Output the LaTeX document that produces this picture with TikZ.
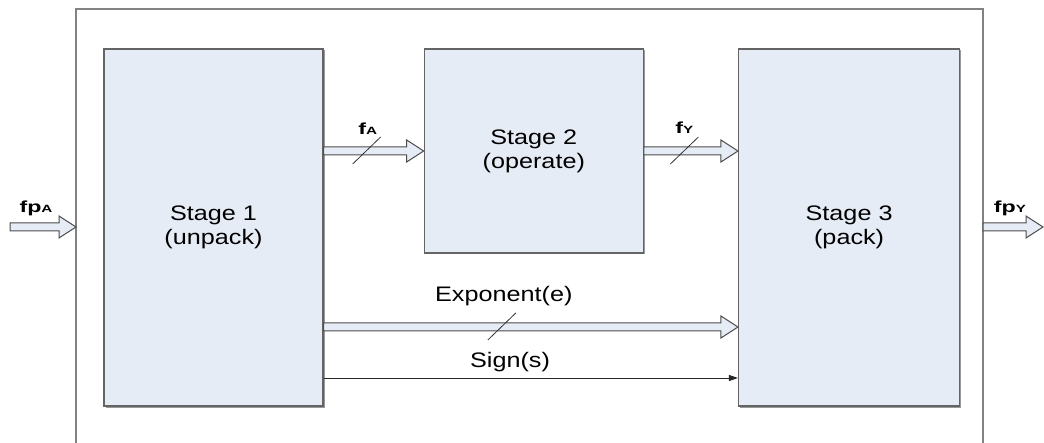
\documentclass[tikz,border=0pt]{standalone}
\usepackage{fontspec}
\setmainfont{Liberation Sans}
\newfontfamily\stagefont[FakeStretch=1.2]{Liberation Sans}
\newfontfamily\busfont[FakeStretch=1.45]{Liberation Sans}
\usetikzlibrary{arrows.meta,calc,positioning,shadows}

\definecolor{stagefill}{RGB}{230,236,246}
\definecolor{framegray}{RGB}{130,130,130}
\definecolor{edgegray}{RGB}{100,100,100}

% small subscript for the bus names
\newcommand\busub[1]{{\fontsize{10.5}{10.5}\selectfont#1}}

\begin{document}
\begin{tikzpicture}[x=1pt,y=-1pt,
  stage/.style={draw=edgegray,fill=stagefill,line width=1.3pt,minimum width=219pt,
    align=center,font=\stagefont\fontsize{21}{24}\selectfont,
    drop shadow={shadow xshift=1.5pt,shadow yshift=-1.5pt,fill=gray!80,opacity=1}},
  bus/.style={fill=stagefill,draw=black!70,line width=1pt,
    to path={let \p1=(\tikztostart), \p2=(\tikztotarget) in
      (\x1,\y1+4pt) -- (\x2-17pt,\y1+4pt) -- (\x2-17pt,\y1+11pt) -- (\x2,\y1)
      -- (\x2-17pt,\y1-11pt) -- (\x2-17pt,\y1-4pt) -- (\x1,\y1-4pt) -- cycle}},
  sig/.style={draw=black!85,line width=0.8pt,-{Triangle[length=9pt,width=6pt]}},
  tick/.style={draw=black!80,line width=0.8pt},
  bus label/.style={font=\busfont\bfseries\fontsize{16}{16}\selectfont},
  wire label/.style={font=\stagefont\fontsize{21}{24}\selectfont}]

  \useasboundingbox (0,0) rectangle (1044,443);

  % enclosing block
  \draw[framegray,line width=2pt] (76,443) -- (76,9) -- (983,9) -- (983,443);

  \node[stage,minimum height=357pt] (s1) at (213.5,227.5) {Stage 1\\(unpack)};
  \node[stage,minimum height=204pt,right=100pt of s1.north east,anchor=north west] (s2) {Stage 2\\(operate)};
  \node[stage,minimum width=221pt,minimum height=357pt,right=94pt of s2.north east,anchor=north west] (s3) {Stage 3\\(pack)};

  \coordinate (inA) at (10,227);
  \coordinate (frA) at (76,227);
  \coordinate (frY) at (983,227);
  \coordinate (outY) at (1043,227);
  \coordinate (expL) at (s1.east |- 0,327);
  \coordinate (expR) at (s3.west |- 0,327);
  \coordinate (sgnL) at (s1.east |- 0,378);
  \coordinate (sgnR) at (s3.west |- 0,378);
  \coordinate (fAL) at (s1.east |- s2.west);
  \coordinate (fYR) at (s3.west |- s2.east);

  % wide buses
  \draw[bus] (inA) to (frA);
  \draw[bus] (fAL) to (s2.west);
  \draw[bus] (s2.east) to (fYR);
  \draw[bus] (expL) to (expR);
  \draw[bus] (frY) to (outY);
  \draw[sig] (sgnL) -- (sgnR);

  % bus width ticks
  \path (fAL) -- coordinate[pos=0.43] (tA) (s2.west);
  \path (s2.east) -- coordinate[pos=0.43] (tY) (fYR);
  \path (expL) -- coordinate[pos=0.43] (tE) (expR);
  \foreach \t in {tA,tY,tE}
    \draw[tick] (\t) ++(-14,13) -- ++(28,-27);

  \node[bus label] (lfpA) at (36,208) {fp\busub{A}};
  \node[bus label] (lfA) at ($(tA)+(1,-22)$) {f\busub{A}};
  \node[bus label] (lfY) at ($(tY)+(0,-23)$) {f\busub{Y}};
  \node[bus label] (lfpY) at (1010,208) {fp\busub{Y}};
  \node[wire label] (lexp) at ($(tE)+(2,-31)$) {Exponent(e)};
  \node[wire label] (lsgn) at ($(sgnL)!0.45!(sgnR)+(0,-16)$) {Sign(s)};
\end{tikzpicture}
\end{document}
